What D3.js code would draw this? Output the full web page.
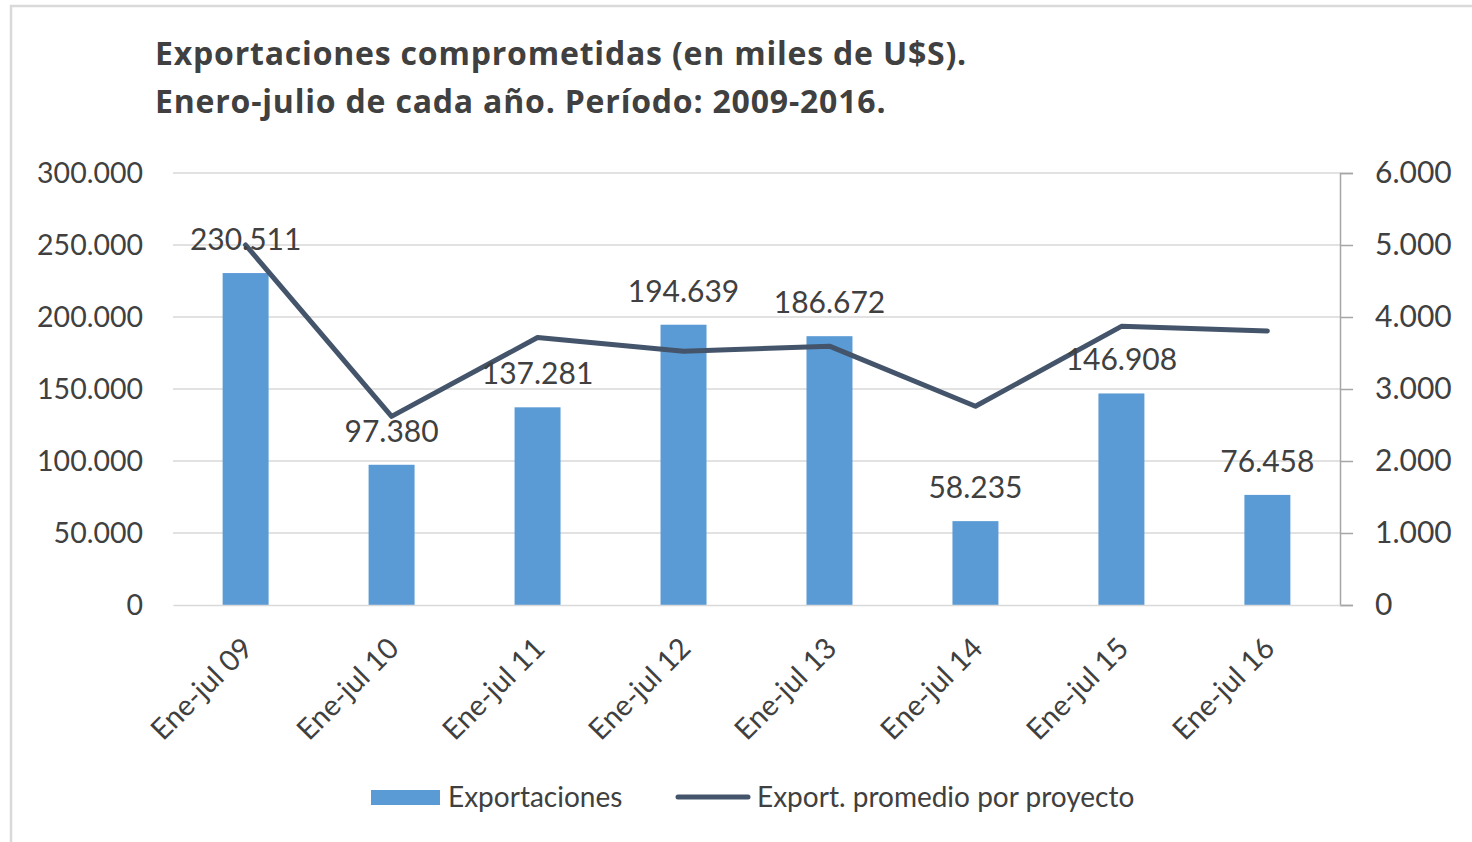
<!DOCTYPE html>
<html>
<head>
<meta charset="utf-8">
<script src="https://cdn.jsdelivr.net/npm/d3@7"></script>
<style>
  html, body { margin: 0; padding: 0; background: #fff; }
  svg { display: block; font-family: Lato, "Open Sans", sans-serif; }
</style>
</head>
<body>
<script>
const categories = ["Ene-jul 09", "Ene-jul 10", "Ene-jul 11", "Ene-jul 12", "Ene-jul 13", "Ene-jul 14", "Ene-jul 15", "Ene-jul 16"];
const exportaciones = [230511, 97380, 137281, 194639, 186672, 58235, 146908, 76458];
const promedio = [5000, 2620, 3715, 3525, 3595, 2760, 3870, 3805];
const leftTicks = [0, 50000, 100000, 150000, 200000, 250000, 300000];
const rightTicks = [0, 1000, 2000, 3000, 4000, 5000, 6000];
const titleLines = ["Exportaciones comprometidas (en miles de U$S).", "Enero-julio de cada año. Período: 2009-2016."];

const width = 1472;
const height = 842;
const fmt = d3.format(",.0f");
const es = v => fmt(v).replace(/,/g, ".");

const svg = d3.select("body").append("svg")
  .attr("width", width)
  .attr("height", height);

svg.append("rect")
  .attr("x", 11).attr("y", 6)
  .attr("width", 1470).attr("height", 850)
  .attr("fill", "#fff")
  .attr("stroke", "#d9d9d9")
  .attr("stroke-width", 2.5);

svg.append("g")
  .selectAll("text")
  .data(titleLines)
  .join("text")
  .attr("x", 155)
  .attr("y", (d, i) => 65 + i * 48)
  .attr("fill", "#404040")
  .attr("font-family", "'Open Sans', sans-serif")
  .attr("font-size", 32)
  .attr("letter-spacing", 0.8)
  .attr("font-weight", "bold")
  .text(d => d);

const x = d3.scaleBand().domain(categories).range([173, 1340]).paddingInner(0.685).paddingOuter(0.34);
const y = d3.scaleLinear().domain([0, 300000]).range([605, 173]);
const y2 = d3.scaleLinear().domain([0, 6000]).range([605, 173]);

// gridlines
svg.append("g")
  .selectAll("line")
  .data(leftTicks.slice(1))
  .join("line")
  .attr("x1", 173).attr("x2", 1340)
  .attr("y1", d => y(d)).attr("y2", d => y(d))
  .attr("stroke", "#d9d9d9")
  .attr("stroke-width", 1.5);

// left axis
const yAxis = svg.append("g")
  .attr("transform", "translate(173,0)")
  .call(d3.axisLeft(y).tickValues(leftTicks).tickFormat(es).tickSize(0).tickPadding(30));
yAxis.select(".domain").remove();
yAxis.selectAll("text").attr("font-size", 28.5).attr("fill", "#404040").attr("font-family", "Lato, sans-serif");

// right axis
const y2Axis = svg.append("g")
  .attr("transform", "translate(1340,0)")
  .call(d3.axisRight(y2).tickValues(rightTicks).tickFormat(es).tickSize(13).tickPadding(22));
y2Axis.select(".domain").attr("stroke", "#a6a6a6").attr("stroke-width", 1.5);
y2Axis.selectAll(".tick line").attr("stroke", "#a6a6a6").attr("stroke-width", 1.5);
y2Axis.selectAll("text").attr("font-size", 30).attr("fill", "#404040").attr("font-family", "Lato, sans-serif");

// bars
svg.append("g")
  .selectAll("rect")
  .data(exportaciones)
  .join("rect")
  .attr("x", (d, i) => x(categories[i]))
  .attr("y", d => y(d))
  .attr("width", x.bandwidth())
  .attr("height", d => y(0) - y(d))
  .attr("fill", "#5b9bd5");

// bottom axis
const xAxis = svg.append("g")
  .attr("transform", "translate(0,605)")
  .call(d3.axisBottom(x).tickSize(0).tickPadding(0));
xAxis.select(".domain").attr("stroke", "#d9d9d9").attr("stroke-width", 1.5);
xAxis.selectAll("text")
  .attr("font-size", 29)
  .attr("fill", "#404040")
  .attr("font-family", "Lato, sans-serif")
  .attr("text-anchor", "end")
  .attr("dy", null)
  .attr("y", 0)
  .attr("transform", "translate(9,45) rotate(-45)");

// line
const line = d3.line()
  .x((d, i) => x(categories[i]) + x.bandwidth() / 2)
  .y(d => y2(d));

svg.append("path")
  .datum(promedio)
  .attr("d", line)
  .attr("fill", "none")
  .attr("stroke", "#44546a")
  .attr("stroke-width", 5)
  .attr("stroke-linejoin", "round")
  .attr("stroke-linecap", "round");

// data labels
svg.append("g")
  .selectAll("text")
  .data(exportaciones)
  .join("text")
  .attr("x", (d, i) => x(categories[i]) + x.bandwidth() / 2)
  .attr("y", d => y(d) - 23)
  .attr("text-anchor", "middle")
  .attr("font-size", 30)
  .attr("fill", "#404040")
  .text(es);

// legend
const legend = svg.append("g").attr("font-size", 28).attr("fill", "#404040");
legend.append("rect")
  .attr("x", 371).attr("y", 790).attr("width", 69).attr("height", 15)
  .attr("fill", "#5b9bd5");
legend.append("text")
  .attr("x", 448).attr("y", 807)
  .text("Exportaciones");
legend.append("line")
  .attr("x1", 678).attr("x2", 748).attr("y1", 797).attr("y2", 797)
  .attr("stroke", "#44546a").attr("stroke-width", 5).attr("stroke-linecap", "round");
legend.append("text")
  .attr("x", 757).attr("y", 807)
  .text("Export. promedio por proyecto");
</script>
</body>
</html>
